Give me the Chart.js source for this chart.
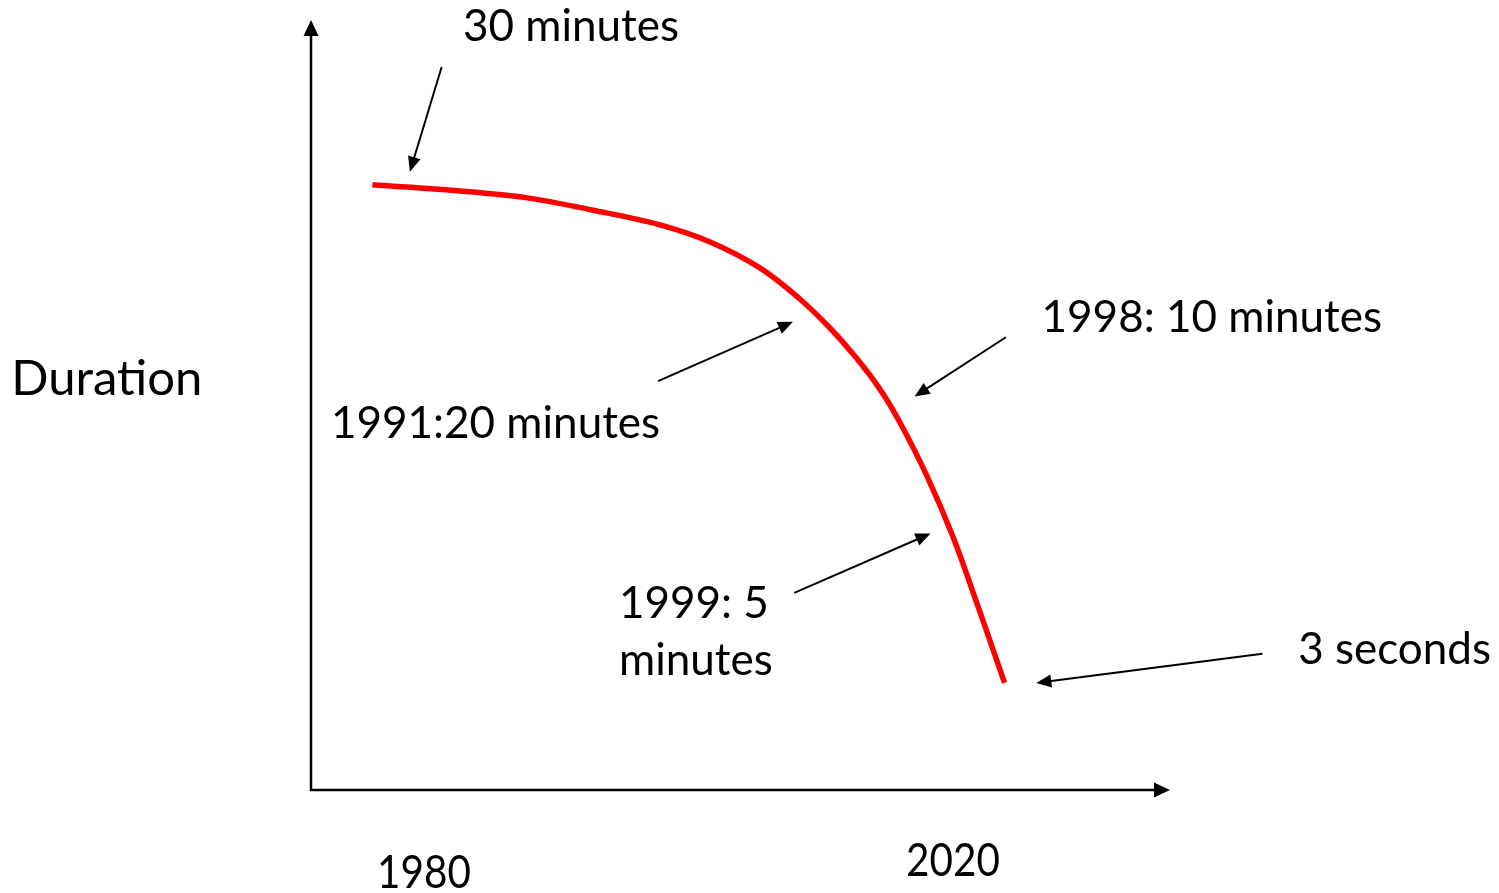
<!DOCTYPE html>
<html>
<head>
<meta charset="utf-8">
<script src="https://cdn.jsdelivr.net/npm/chart.js@4/dist/chart.umd.min.js"></script>
<style>
  html, body { margin: 0; padding: 0; background: #ffffff; }
  #wrap { width: 1499px; height: 893px; }
</style>
</head>
<body>
<div id="wrap"><canvas id="c" width="1499" height="893"></canvas></div>
<script>
// ---- data (y is a conceptual "duration level", 0 = axis) ----
const years = [1976.1, 1982.7, 1987.8, 1992.8, 1997.85, 2001.6, 2005.4, 2008.4, 2010.7, 2012.7, 2014.5, 2016.0, 2018.0, 2020.0, 2021.8, 2023.9];
const durationLevel = [78.6, 77.8, 76.9, 75.3, 73.4, 71.2, 67.8, 63.8, 60.0, 56.1, 52.0, 47.7, 40.9, 32.9, 24.3, 13.9];
const tickYears = [1980, 2020];
const tickLabels = ['1980', '2020'];
const axisTitle = 'Duration';

// annotation texts and arrows, anchored in data units
const noteTexts = ['30 minutes', '1991:20 minutes', '1998: 10 minutes', '1999: 5', 'minutes', '3 seconds'];
const noteAt = [[1982.95, 97.3], [1972.97, 45.7], [2026.7, 59.5], [1994.75, 22.3], [1994.75, 14.9], [2046.1, 16.4]];
const arrowFrom = [[1981.34, 93.9], [1997.7, 53.1], [2024.0, 58.8], [2008.0, 25.6], [2043.4, 17.7]];
const arrowTo = [[1978.94, 80.3], [2007.9, 60.8], [2017.1, 51.1], [2018.3, 33.3], [2026.3, 13.9]];

const X_MIN = 1971.46, X_MAX = 2036.41, Y_MIN = 0, Y_MAX = 100;
const FONT = 'Lato, "Open Sans", sans-serif';

function arrowHead(ctx, x1, y1, x2, y2, len, half) {
  const a = Math.atan2(y2 - y1, x2 - x1);
  ctx.beginPath();
  ctx.moveTo(x2, y2);
  ctx.lineTo(x2 - len * Math.cos(a) + half * Math.sin(a), y2 - len * Math.sin(a) - half * Math.cos(a));
  ctx.lineTo(x2 - len * Math.cos(a) - half * Math.sin(a), y2 - len * Math.sin(a) + half * Math.cos(a));
  ctx.closePath();
  ctx.fill();
}
function arrow(ctx, x1, y1, x2, y2, lw, len, half) {
  const a = Math.atan2(y2 - y1, x2 - x1);
  ctx.lineWidth = lw;
  ctx.beginPath();
  ctx.moveTo(x1, y1);
  ctx.lineTo(x2 - (len - 2) * Math.cos(a), y2 - (len - 2) * Math.sin(a));
  ctx.stroke();
  arrowHead(ctx, x1, y1, x2, y2, len, half);
}

const decor = {
  id: 'decor',
  afterDraw(chart) {
    const ctx = chart.ctx;
    const xs = chart.scales.x, ys = chart.scales.y;
    const px = v => xs.getPixelForValue(v), py = v => ys.getPixelForValue(v);
    ctx.save();
    ctx.strokeStyle = '#000';
    ctx.fillStyle = '#000';
    ctx.lineCap = 'butt';
    // axes with arrowheads
    const ox = px(X_MIN), oy = py(Y_MIN);
    arrow(ctx, ox, oy + 1, ox, py(Y_MAX), 2.5, 16, 7.5);
    arrow(ctx, ox - 1, oy, px(X_MAX), oy, 2.5, 16, 7.5);
    // annotation arrows
    for (let i = 0; i < arrowFrom.length; i++) {
      arrow(ctx, px(arrowFrom[i][0]), py(arrowFrom[i][1]), px(arrowTo[i][0]), py(arrowTo[i][1]), 2, 15, 6.5);
    }
    // annotation texts
    ctx.font = '44px ' + FONT;
    ctx.textBaseline = 'alphabetic';
    ctx.textAlign = 'left';
    for (let i = 0; i < noteTexts.length; i++) {
      ctx.fillText(noteTexts[i], px(noteAt[i][0]), py(noteAt[i][1]));
    }
    // axis title
    ctx.font = '49px ' + FONT;
    ctx.fillText(axisTitle, px(1948.8), py(51.3));
    // tick labels (condensed)
    ctx.font = '47px ' + FONT;
    ctx.textAlign = 'center';
    const base = [-12.7, -11.2];
    for (let i = 0; i < tickYears.length; i++) {
      ctx.save();
      ctx.translate(px(tickYears[i]), py(base[i]));
      ctx.scale(0.86, 1);
      ctx.fillText(tickLabels[i], 0, 0);
      ctx.restore();
    }
    ctx.restore();
  }
};

new Chart(document.getElementById('c'), {
  type: 'line',
  data: {
    datasets: [{
      data: years.map((y, i) => ({ x: y, y: durationLevel[i] })),
      borderColor: '#ff0000',
      borderWidth: 5.5,
      pointRadius: 0,
      tension: 0.35,
      borderCapStyle: 'butt',
      fill: false
    }]
  },
  options: {
    responsive: false,
    animation: false,
    events: [],
    layout: { padding: { left: 311, right: 329, top: 20, bottom: 103 } },
    plugins: { legend: { display: false }, tooltip: { enabled: false } },
    scales: {
      x: { type: 'linear', min: X_MIN, max: X_MAX, display: false },
      y: { type: 'linear', min: Y_MIN, max: Y_MAX, display: false }
    }
  },
  plugins: [decor]
});
</script>
</body>
</html>
